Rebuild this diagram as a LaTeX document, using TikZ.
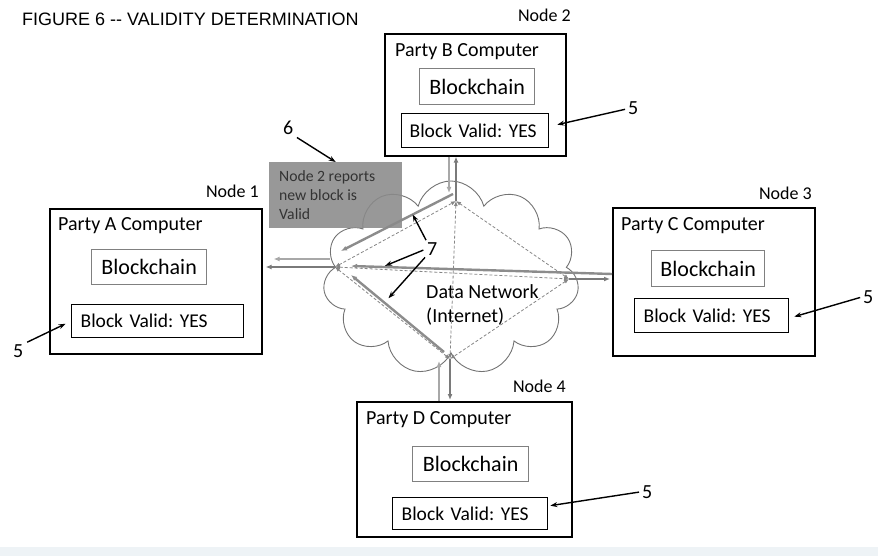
\documentclass[tikz,border=0pt]{standalone}
\usepackage{fontspec}
\setmainfont{Carlito}
\newfontfamily\titlefont{Liberation Sans}
\usetikzlibrary{shapes.symbols,arrows.meta}
\definecolor{linkgray}{HTML}{8C8C8C}
\definecolor{lightlink}{HTML}{A8A8A8}
\definecolor{darklink}{HTML}{7A7A7A}
\definecolor{dashgray}{HTML}{858585}
\definecolor{rptgray}{HTML}{8A8A8A}
\definecolor{bandcol}{HTML}{EEF3F6}
\frenchspacing

\begin{document}
\begin{tikzpicture}[x=1pt,y=-1pt,
	pcbox/.style={draw=black,line width=1.6pt,anchor=north west,inner sep=0pt},
	chainbox/.style={draw=gray,line width=1.3pt,anchor=north west,inner sep=0pt,font=\fontsize{22}{26}\selectfont},
	validbox/.style={draw=black,line width=1.3pt,anchor=north west,inner xsep=9pt,inner ysep=0pt,align=left,font=\fontsize{19.5}{24}\selectfont},
	hdr/.style={anchor=base west,inner sep=0pt,font=\fontsize{20}{24}\selectfont},
	nodetag/.style={anchor=base east,inner sep=0pt,font=\fontsize{18}{22}\selectfont},
	num/.style={anchor=base west,inner sep=0pt,font=\fontsize{20}{24}\selectfont},
	callout/.style={-{Stealth[length=7pt,width=5pt]},line width=1.4pt,black},
	bigarr/.style={-{Latex[length=6pt,width=5pt]},line width=2.4pt,linkgray},
	lightarr/.style={-{Latex[length=6pt,width=5pt]},line width=1.8pt,lightlink},
	darkarr/.style={-{Latex[length=6pt,width=5pt]},line width=1.4pt,darklink},
	netdash/.style={{Latex[length=5pt,width=4pt]}-{Latex[length=5pt,width=4pt]},line width=0.8pt,dashgray,dash pattern=on 3pt off 2pt}]
	% frame and title
	\fill[bandcol] (0,547) rectangle (878,556);
	\useasboundingbox (0,0) rectangle (878,556);
	\node[anchor=base west,inner sep=0pt,font=\titlefont\fontsize{18}{22}\selectfont] (title) at (22,26) {FIGURE 6 -{}- VALIDITY DETERMINATION};
	% network cloud
	\node[cloud,cloud puffs=11,aspect=1.3,draw=gray!90!black,line width=0.9pt,minimum width=256pt,minimum height=194pt] (net) at (451,278) {};
	\node[anchor=base west,inner sep=0pt,align=left,font=\fontsize{20}{24}\selectfont] (netlabel) at (426,322) {Data Network\\(Internet)};
	% computers
	\node[pcbox,minimum width=181pt,minimum height=122pt] (boxB) at (384,33) {};
	\node[pcbox,minimum width=212pt,minimum height=145pt] (boxA) at (49,208) {};
	\node[pcbox,minimum width=202pt,minimum height=148pt] (boxC) at (612,207) {};
	\node[pcbox,minimum width=215pt,minimum height=135pt] (boxD) at (356,401) {};
	\node[nodetag] (tagB) at (571,22) {Node 2};
	\node[nodetag] (tagA) at (259,198) {Node 1};
	\node[nodetag] (tagC) at (812,200) {Node 3};
	\node[nodetag] (tagD) at (566,392) {Node 4};
	\node[hdr] (hdrB) at (395,57) {Party B Computer};
	\node[hdr] (hdrA) at (58,230) {Party A Computer};
	\node[hdr] (hdrC) at (621,230) {Party C Computer};
	\node[hdr] (hdrD) at (366,424) {Party D Computer};
	\node[chainbox,minimum width=115pt,minimum height=36pt] (chainB) at (419,68) {Blockchain};
	\node[chainbox,minimum width=115pt,minimum height=35pt] (chainA) at (91,249) {Blockchain};
	\node[chainbox,minimum width=113pt,minimum height=36pt] (chainC) at (651,250) {Blockchain};
	\node[chainbox,minimum width=116pt,minimum height=35pt] (chainD) at (412,446) {Blockchain};
	\node[validbox,text width=131pt,inner xsep=8pt,minimum height=34pt] (validB) at (401,113) {Block Valid: YES};
	\node[validbox,text width=154pt,minimum height=33pt] (validA) at (71,304) {Block Valid: YES};
	\node[validbox,text width=136pt,minimum height=34pt] (validC) at (634,298) {Block Valid: YES};
	\node[validbox,text width=137pt,minimum height=32pt] (validD) at (392,497) {Block Valid: YES};
	% hubs in the cloud
	\coordinate (hubL) at (335,267);
	\coordinate (hubT) at (456,201);
	\coordinate (hubR) at (569,279);
	\coordinate (hubB) at (450,359);
	\coordinate (portB) at (449,193);
	\coordinate (portA) at (330,259);
	\coordinate (portD) at (439,361);
	\coordinate (fromT) at (453,194);
	\coordinate (toL1) at (341,251);
	\coordinate (fromC) at (612,274);
	\coordinate (toL2) at (351,266);
	\coordinate (fromB) at (444,352);
	\coordinate (toL3) at (351,275);
	% dashed mesh
	\draw[netdash] (hubL) -- (hubT);
	\draw[netdash] (hubT) -- (hubR);
	\draw[netdash] (hubR) -- (hubB);
	\draw[netdash] (hubB) -- (hubL);
	\draw[netdash] (hubL) -- (hubR);
	\draw[netdash] (hubT) -- (hubB);
	% links to the computers
	\draw[lightarr] (portB |- boxB.south) -- (portB);
	\draw[darkarr] (hubT) -- (hubT |- boxB.south);
	\draw[lightarr,shorten >=11pt] (portA) -- (portA -| boxA.east);
	\draw[darkarr,shorten >=3pt] (hubL) -- (hubL -| boxA.east);
	\draw[darkarr,shorten >=2pt] (hubR) -- (hubR -| boxC.west);
	\draw[lightarr] (portD |- boxD.north) -- (portD);
	\draw[darkarr,shorten >=1pt] (hubB) -- (hubB |- boxD.north);
	% reports back to node 1
	\draw[bigarr] (fromT) -- (toL1) coordinate[pos=0.36] (onT);
	\draw[bigarr] (fromC) -- (toL2) coordinate[pos=0.88] (onC);
	\draw[bigarr] (fromB) -- (toL3) coordinate[pos=0.64] (onB);
	% report box
	\node[anchor=north west,fill=rptgray,fill opacity=0.88,inner sep=0pt,minimum width=133pt,minimum height=66pt] (rptbox) at (269,162) {};
	\node[anchor=base west,inner sep=0pt,align=left,text=black!80,font=\fontsize{15.7}{18.5}\selectfont] (rpttext) at (279,219) {Node 2 reports\\new block is\\Valid};
	% callouts
	\node[num] (fiveB) at (628,115) {5};
	\node[num] (fiveA) at (13,357) {5};
	\node[num] (fiveC) at (863,303) {5};
	\node[num] (fiveD) at (642,498) {5};
	\node[num] (six) at (283,135) {6};
	\node[num] (seven) at (427,255) {7};
	\draw[callout,shorten <=3pt] (fiveB.west) -- ([xshift=8pt,yshift=6pt]validB.east);
	\draw[callout,shorten <=4pt,shorten >=6pt] (fiveA.north east) -- (validA.west);
	\draw[callout,shorten <=3pt] (fiveC.west) -- ([xshift=5pt,yshift=-1pt]validC.east);
	\draw[callout,shorten <=3pt] (fiveD.west) -- ([xshift=2pt,yshift=8pt]validD.east);
	\draw[callout,shorten <=4pt] (six.south east) -- (rptbox.north);
	\draw[callout,shorten <=2pt] (seven.north west) -- (onT);
	\draw[callout,shorten <=4pt,shorten >=3pt] (seven.west) -- (onC);
	\draw[callout,shorten <=3pt,shorten >=6pt] (seven.south west) -- (onB);
\end{tikzpicture}
\end{document}
